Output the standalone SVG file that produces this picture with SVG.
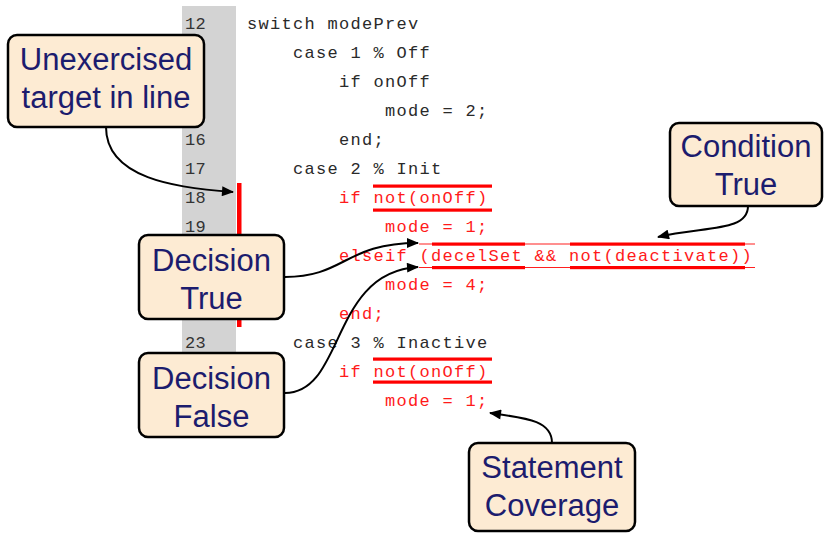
<svg xmlns="http://www.w3.org/2000/svg" width="825" height="533" viewBox="0 0 825 533">
<style>
.code{font-family:"Liberation Mono","Courier New",monospace;font-size:17px;letter-spacing:1.3px;fill:#2a2a2a}
.red{fill:#ff1a1a}
.ln{font-family:"Liberation Mono","Courier New",monospace;font-size:17px;letter-spacing:0.3px;fill:#333}
.box{fill:#fdebd3;stroke:#000;stroke-width:2.5}
.lbl{font-family:"Liberation Sans",Arial,sans-serif;font-size:31px;fill:#1c1c6e;text-anchor:middle}
.bar{fill:#ff0000}
.thin{stroke:#ff2020;stroke-width:1.2}
.conn{fill:none;stroke:#000;stroke-width:2}
</style>
<defs>
<marker id="ah" viewBox="0 0 12 10" refX="11" refY="5" markerWidth="13" markerHeight="10" markerUnits="userSpaceOnUse" orient="auto">
<path d="M0,0 L12,5 L0,10 Z" fill="#000"/>
</marker>
</defs>
<rect x="182" y="6" width="54" height="348" fill="#d3d3d3"/>
<rect x="237" y="183" width="4.5" height="144" fill="#ff0000"/>
<g id="linenumbers">
<text class="ln" x="185" y="29">12</text>
<text class="ln" x="185" y="145">16</text>
<text class="ln" x="185" y="174">17</text>
<text class="ln" x="185" y="203">18</text>
<text class="ln" x="185" y="232">19</text>
<text class="ln" x="185" y="348">23</text>
</g>
<g id="code">
<text class="code" x="247" y="29">switch modePrev</text>
<text class="code" x="293" y="58">case 1 % Off</text>
<text class="code" x="339" y="87">if onOff</text>
<text class="code" x="385" y="116">mode = 2;</text>
<text class="code" x="339" y="145">end;</text>
<text class="code" x="293" y="174">case 2 % Init</text>
<text class="code red" x="339" y="203">if not(onOff)</text>
<text class="code red" x="385" y="232">mode = 1;</text>
<text class="code red" x="339" y="261">elseif (decelSet &amp;&amp; not(deactivate))</text>
<text class="code red" x="385" y="290">mode = 4;</text>
<text class="code red" x="339" y="319">end;</text>
<text class="code" x="293" y="348">case 3 % Inactive</text>
<text class="code red" x="339" y="377">if not(onOff)</text>
<text class="code red" x="385" y="406">mode = 1;</text>
</g>
<g id="coverage-marks">
<rect class="bar" x="373" y="184.5" width="119" height="3.2"/>
<rect class="bar" x="373" y="208.5" width="119" height="3.2"/>
<line class="thin" x1="419" y1="244" x2="755" y2="244"/>
<line class="thin" x1="419" y1="267.5" x2="755" y2="267.5"/>
<rect class="bar" x="432" y="242.5" width="93" height="3.2"/>
<rect class="bar" x="570" y="242.5" width="175" height="3.2"/>
<rect class="bar" x="432" y="266" width="93" height="3.2"/>
<rect class="bar" x="570" y="266" width="175" height="3.2"/>
<rect class="bar" x="373" y="357.5" width="119" height="3.2"/>
<rect class="bar" x="373" y="380.5" width="119" height="3.2"/>
</g>
<g id="connectors">
<path class="conn" d="M106,127 C106,178 175,188 233,192" marker-end="url(#ah)"/>
<path class="conn" d="M285,277 C345,277 345,243 418,243" marker-end="url(#ah)"/>
<path class="conn" d="M285,393 C345,393 330,272 418,267" marker-end="url(#ah)"/>
<path class="conn" d="M748,206 C748,232 705,226 658,237" marker-end="url(#ah)"/>
<path class="conn" d="M552,443 C552,420 525,418 490,413" marker-end="url(#ah)"/>
</g>
<g id="unexercised">
<rect class="box" x="8" y="35" width="196" height="92" rx="9"/>
<text class="lbl" x="106" y="70">Unexercised</text>
<text class="lbl" x="106" y="108">target in line</text>
</g>
<g id="decision-true">
<rect class="box" x="139" y="235" width="145" height="84" rx="9"/>
<text class="lbl" x="211.5" y="271">Decision</text>
<text class="lbl" x="211.5" y="309">True</text>
</g>
<g id="decision-false">
<rect class="box" x="139" y="353" width="145" height="84" rx="9"/>
<text class="lbl" x="211.5" y="389">Decision</text>
<text class="lbl" x="211.5" y="427">False</text>
</g>
<g id="condition-true">
<rect class="box" x="670" y="123" width="152" height="83" rx="9"/>
<text class="lbl" x="746" y="157">Condition</text>
<text class="lbl" x="746" y="195">True</text>
</g>
<g id="statement-coverage">
<rect class="box" x="469" y="443" width="166" height="88" rx="9"/>
<text class="lbl" x="552" y="478">Statement</text>
<text class="lbl" x="552" y="516">Coverage</text>
</g>
</svg>
